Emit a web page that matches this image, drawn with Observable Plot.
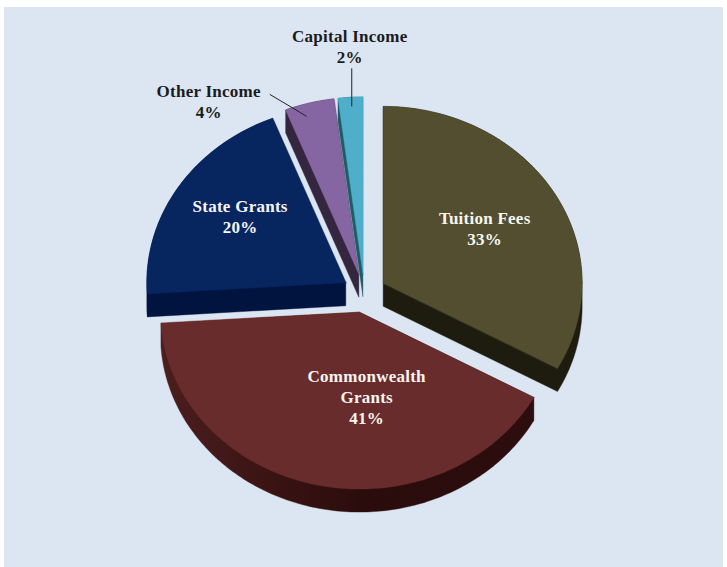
<!DOCTYPE html>
<html>
<head>
<meta charset="utf-8">
<title>Income by source</title>
<script src="https://cdn.jsdelivr.net/npm/d3@7"></script>
<script src="https://cdn.jsdelivr.net/npm/@observablehq/plot@0.6"></script>
<style>
  html, body { margin: 0; padding: 0; background: #fff; overflow: hidden; }
  #chart { position: absolute; left: 4px; top: 7px; width: 719px; height: 560px; }
  #chart svg { display: block; }
  #chart text { letter-spacing: 0.25px; }
</style>
</head>
<body>
<div id="chart"></div>
<script>
// Income shares, clockwise from twelve o'clock
const sources = ["Tuition Fees", "Commonwealth Grants", "State Grants", "Other Income", "Capital Income"];
const shares = [33, 41, 20, 4, 2];
const labels = ["Tuition Fees\n33%", "Commonwealth\nGrants\n41%", "State Grants\n20%", "Other Income\n4%", "Capital Income\n2%"];

// Face and side colours of each slice
const faceColors = ["#524e2f", "#692c2c", "#07255f", "#8566a3", "#4fafcb"];
const sideColors = ["#1e1c0f", "url(#commonwealth-side)", "#00143f", "#35263f", "#1f5b66"];
const labelColors = ["#f7f6ef", "#f7f4ef", "#f6f7fa", "#1b1b1b", "#1b1b1b"];

// Label centres, in pie radii from the pie's centre
const labelX = [0.605, 0.012, -0.624, -0.782, -0.073];
const labelY = [0.37, -0.583, 0.44, 1.089, 1.4];

// Leader lines of the two small slices, in pie radii
const leaders = [
  {x1: -0.475, y1: 1.124, x2: -0.29, y2: 1.0},
  {x1: -0.063, y1: 1.271, x2: -0.063, y2: 1.056}
];

const explode = 0.11;   // how far each slice is pulled out, in radii
const depth = 0.13;     // extrusion of the pie, in vertical radii
const total = d3.sum(shares);

// Outline of one slice: apex, then the arc sampled every degree
function outline(startShare, share) {
  const a0 = startShare / total * 2 * Math.PI;
  const a1 = (startShare + share) / total * 2 * Math.PI;
  const mid = (a0 + a1) / 2;
  const ax = explode * Math.sin(mid);
  const ay = explode * Math.cos(mid);
  const steps = Math.max(2, Math.ceil((a1 - a0) / (Math.PI / 180)));
  const pts = [[ax, ay]];
  for (let i = 0; i <= steps; i++) {
    const a = a0 + (a1 - a0) * i / steps;
    pts.push([ax + Math.sin(a), ay + Math.cos(a)]);
  }
  return pts;
}

let running = 0;
const slices = shares.map((share, i) => {
  const face = outline(running, share);
  running += share;
  // Slices are convex, so the swept solid is the hull of the top and bottom faces
  const side = d3.polygonHull(face.concat(face.map(([x, y]) => [x, y - depth])));
  return {name: sources[i], face, side: side.concat([side[0]])};
});

const polygon = (pts, fill) =>
  Plot.line(pts, {x: "0", y: "1", fill, stroke: fill, strokeWidth: 0.4, curve: "linear-closed"});

// Horizontal shading on the curved wall of the largest slice
const sideShade = () => {
  const defs = d3.create("svg:defs");
  const g = defs.append("linearGradient").attr("id", "commonwealth-side");
  [[0, "#4c1e1e"], [0.3, "#3a1313"], [0.55, "#2a0c0c"], [1, "#2d0d0d"]].forEach(([o, c]) =>
    g.append("stop").attr("offset", o).attr("stop-color", c));
  return defs.node();
};

const chart = Plot.plot({
  width: 719,
  height: 560,
  margin: 0,
  style: {background: "#dce6f2"},
  x: {axis: null, domain: [-1, 1], range: [160.8, 558.8]},
  y: {axis: null, domain: [-1, 1], range: [462.6, 108.8]},
  marks: [
    sideShade,
    ...slices.flatMap((s, i) => [polygon(s.side, sideColors[i]), polygon(s.face, faceColors[i])]),
    Plot.link(leaders, {x1: "x1", y1: "y1", x2: "x2", y2: "y2", stroke: "#222", strokeWidth: 1}),
    Plot.text(labels, {
      x: labelX,
      y: labelY,
      text: d => d,
      fill: labelColors,
      fontFamily: "Liberation Serif",
      fontWeight: "bold",
      fontSize: 17,
      lineHeight: 1.25,
      textAnchor: "middle",
      lineAnchor: "middle"
    })
  ]
});

document.getElementById("chart").append(chart);
</script>
</body>
</html>
